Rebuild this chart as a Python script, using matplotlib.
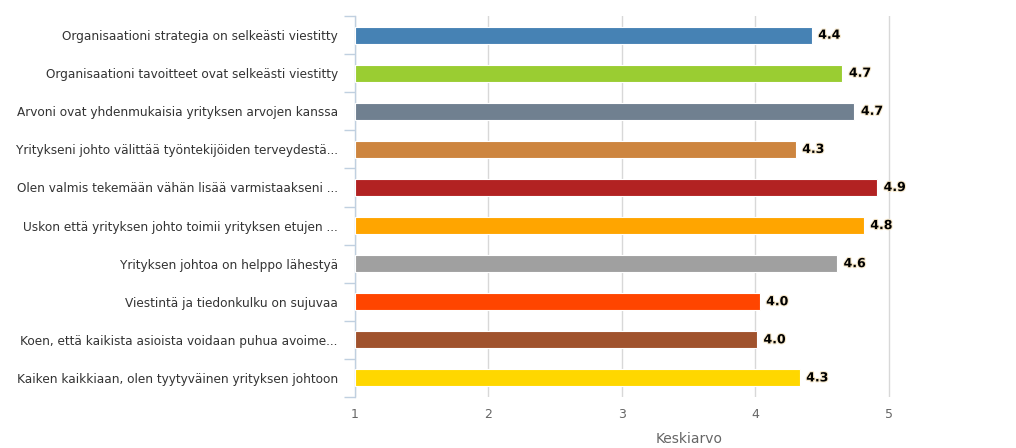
import matplotlib.pyplot as plt
import matplotlib.patheffects as pe
import numpy as np

# kysymykset ja keskiarvot
kysymykset = [
    "Organisaationi strategia on selkeästi viestitty",
    "Organisaationi tavoitteet ovat selkeästi viestitty",
    "Arvoni ovat yhdenmukaisia yrityksen arvojen kanssa",
    "Yritykseni johto välittää työntekijöiden terveydestä...",
    "Olen valmis tekemään vähän lisää varmistaakseni ...",
    "Uskon että yrityksen johto toimii yrityksen etujen ...",
    "Yrityksen johtoa on helppo lähestyä",
    "Viestintä ja tiedonkulku on sujuvaa",
    "Koen, että kaikista asioista voidaan puhua avoime...",
    "Kaiken kaikkiaan, olen tyytyväinen yrityksen johtoon",
]
keskiarvot = [4.42, 4.65, 4.74, 4.30, 4.91, 4.81, 4.61, 4.03, 4.01, 4.33]
varit = ["#4682B4", "#9ACD32", "#708090", "#CD853F", "#B22222",
         "#FFA500", "#A0A0A0", "#FF4500", "#A0522D", "#FFD700"]
x_ticks = [1, 2, 3, 4, 5, 6]

fig = plt.figure(figsize=(10.16, 4.48), dpi=100)
ax = fig.add_axes([0.3494, 0.114, 0.657, 0.850])

y = np.arange(len(kysymykset))
ax.barh(y, [v - 1 for v in keskiarvot], left=1, height=0.45, color=varit,
        edgecolor="white", linewidth=0.8, zorder=3)

for yi, v in zip(y, keskiarvot):
    ax.text(v + 0.05, yi, f"{v:.1f}", va="center", ha="left", fontsize=9,
            fontweight="bold", color="black", zorder=4,
            path_effects=[pe.withStroke(linewidth=1.5, foreground="#f5e6c8")])

ax.set_xlim(1, 6)
ax.set_ylim(len(kysymykset) - 0.5, -0.5)
ax.set_xticks(x_ticks)
ax.set_xticklabels([str(t) for t in x_ticks], color="#666666", fontsize=9)
ax.tick_params(axis="x", length=0, pad=8)
ax.xaxis.grid(True, color="#D8D8D8", linewidth=1, zorder=0)

# kategorialuokat: nimet keskellä, pienet viivat rajoilla
ax.set_yticks(y)
ax.set_yticklabels(kysymykset, color="#333333", fontsize=8.7)
ax.tick_params(axis="y", which="major", length=0, pad=12.5)
ax.set_yticks(np.arange(len(kysymykset) + 1) - 0.5, minor=True)
ax.tick_params(axis="y", which="minor", length=8, width=1, color="#C0D0E0")

for s in ["top", "right", "bottom"]:
    ax.spines[s].set_visible(False)
ax.spines["left"].set_color("#C0D0E0")
ax.spines["left"].set_linewidth(1)

ax.set_xlabel("Keskiarvo", color="#666666", fontsize=10, labelpad=8)

fig.savefig("out.png", dpi=100)
